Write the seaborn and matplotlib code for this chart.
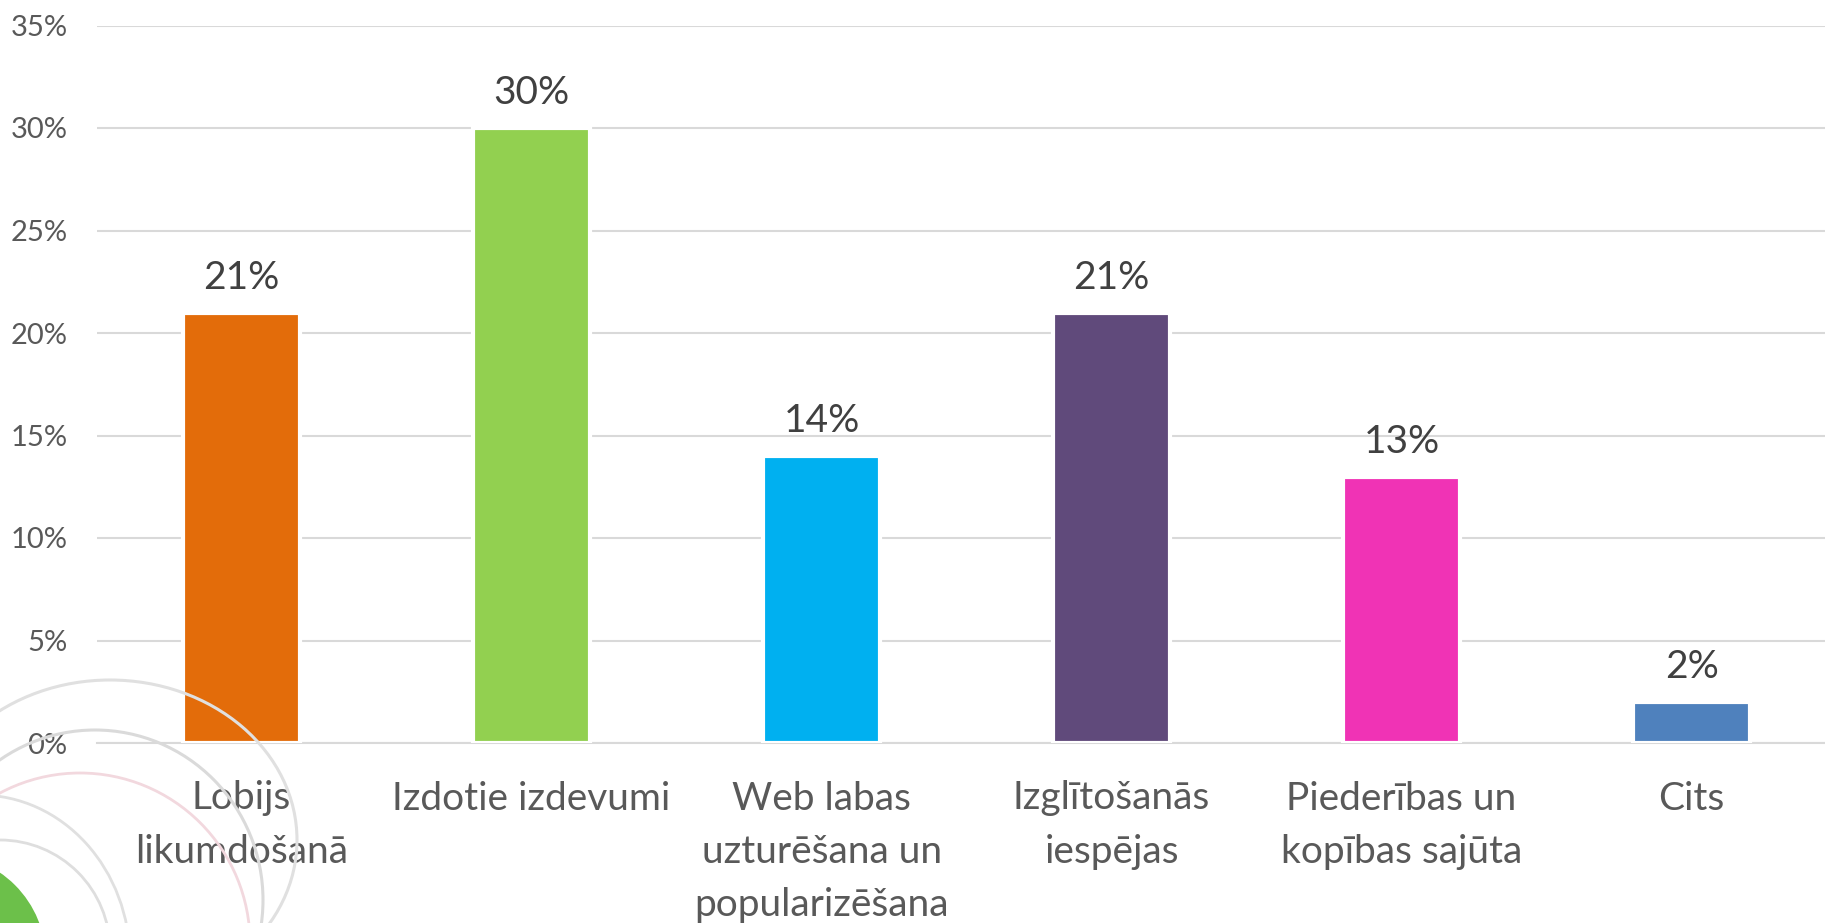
import matplotlib
matplotlib.use("Agg")
import matplotlib.pyplot as plt
from matplotlib.patches import Ellipse
from matplotlib.ticker import FixedLocator, FuncFormatter
import seaborn as sns
import pandas as pd

categories = ["Lobijs\nlikumdošanā", "Izdotie izdevumi", "Web labas\nuzturēšana un\npopularizēšana",
              "Izglītošanās\niespējas", "Piederības un\nkopības sajūta", "Cits"]
values = [21, 30, 14, 21, 13, 2]
colors = ["#E36C0A", "#92D050", "#00B0F0", "#604A7B", "#F033B5", "#4F81BD"]
yticks = [0, 5, 10, 15, 20, 25, 30, 35]

sns.set_theme(style="white")
plt.rcParams["font.family"] = ["Lato", "DejaVu Sans"]

W, H = 1825, 923
fig = plt.figure(figsize=(W / 100, H / 100), dpi=100)
fig.patch.set_facecolor("white")

# decorative background rings (bottom-left), in pixel coords from top-left
def ell(cx, cy, w, h, **kw):
    e = Ellipse((cx / 100, (H - cy) / 100), w / 100, h / 100, transform=fig.dpi_scale_trans, **kw)
    fig.patches.append(e)

ell(-60, 960, 212, 212, facecolor="#6CC04A", edgecolor="none", zorder=0)
ell(110, 840, 374, 320, facecolor="none", edgecolor="#e0e0e0", lw=2.2, zorder=0)
ell(95, 900, 336, 340, facecolor="none", edgecolor="#dadada", lw=2.2, zorder=0)
ell(80, 943, 340, 340, facecolor="none", edgecolor="#f2d8de", lw=2.0, zorder=0)
ell(0, 950, 220, 220, facecolor="none", edgecolor="#dedede", lw=2.0, zorder=0)
ell(-20, 960, 300, 330, facecolor="none", edgecolor="#e0e0e0", lw=2.0, zorder=0)

ax_w = 1740
ax = fig.add_axes([96.6 / W, (H - 743) / H, ax_w / W, (743 - 25.5) / H])
ax.patch.set_alpha(0)

df = pd.DataFrame({"cat": categories, "val": values})
sns.barplot(data=df, x="cat", y="val", hue="cat", palette=colors, legend=False,
            width=0.404, edgecolor="white", linewidth=3, saturation=1, ax=ax, zorder=3)

ax.set_ylim(0, 35)
ax.set_xlim(-0.5, len(categories) - 0.5)
ax.yaxis.set_major_locator(FixedLocator(yticks))
ax.yaxis.set_major_formatter(FuncFormatter(lambda v, p: f"{int(v)}%"))
ax.grid(axis="y", color="#D9D9D9", lw=1.5, zorder=0)
ax.set_axisbelow(True)
for s in ["top", "right", "left"]:
    ax.spines[s].set_visible(False)
ax.spines["bottom"].set_color("#D9D9D9")
ax.spines["bottom"].set_linewidth(1.5)
ax.set_xlabel("")
ax.set_ylabel("")

ax.tick_params(axis="y", length=0, pad=21, labelsize=21, labelcolor="#595959")
ax.tick_params(axis="x", which="major", length=0, pad=27, labelsize=28, labelcolor="#595959")
ax.set_xticks([i - 0.5 for i in range(len(categories) + 1)], minor=True)
ax.tick_params(axis="x", which="minor", length=9.5, width=1.5, color="#D9D9D9", direction="out")
for t in ax.get_xticklabels():
    t.set_linespacing(1.6)

for i, v in enumerate(values):
    ax.annotate(f"{v}%", xy=(i, v), xytext=(0, 12), textcoords="offset points",
                ha="center", va="bottom", fontsize=28, color="#404040")

fig.savefig("out.png", dpi=100)
